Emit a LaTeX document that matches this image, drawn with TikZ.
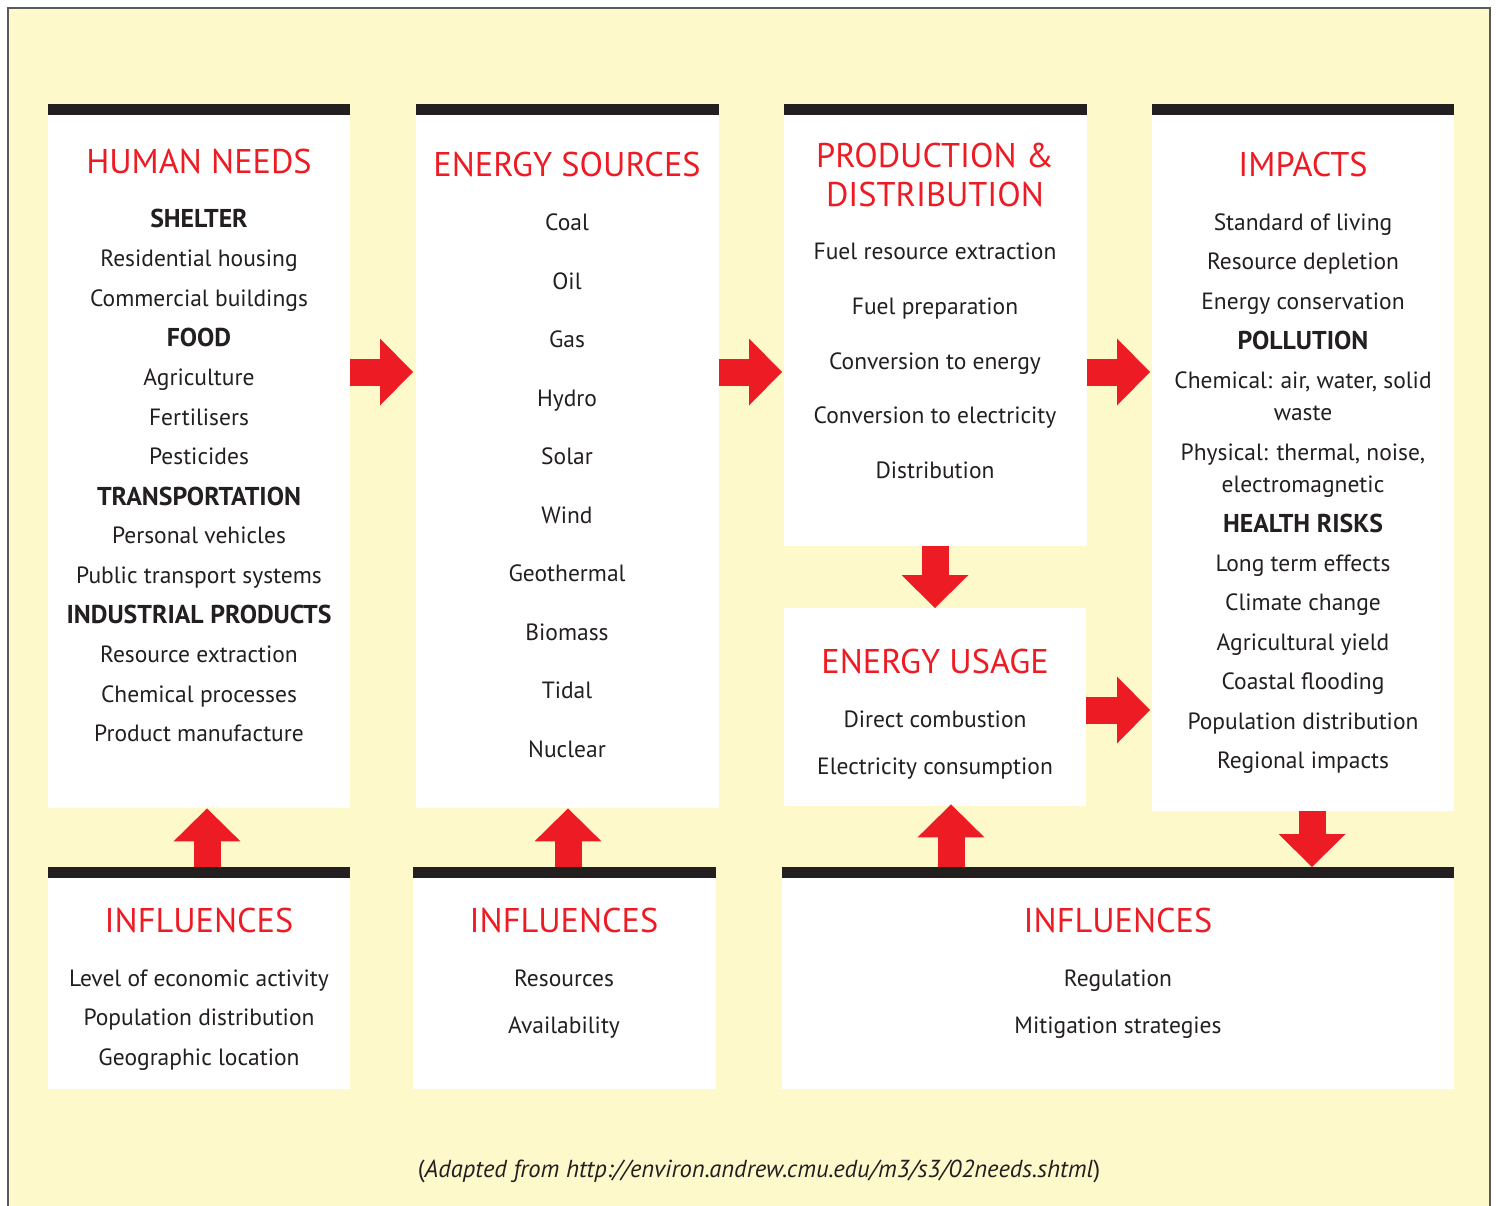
\documentclass[tikz,border=0pt]{standalone}
\usepackage{fontspec}
\setmainfont{PT Sans}
\usetikzlibrary{arrows.meta}
\definecolor{bgyellow}{HTML}{FEF9CB}
\definecolor{arrowred}{HTML}{ED1C24}
\definecolor{barblack}{HTML}{231F20}
\definecolor{inkdark}{HTML}{231F20}
\definecolor{framegray}{HTML}{5A5A5A}

\tikzset{
  panel/.style={fill=white, draw=none, inner sep=0pt, anchor=north west},
  ttl/.style={text=arrowred, font=\fontsize{34.3}{34.3}\selectfont, anchor=base, yshift=-12pt, inner sep=0pt},
  itm/.style={text=inkdark, font=\fontsize{23.5}{23.5}\selectfont, anchor=base, yshift=-8pt, inner sep=0pt},
  hdg/.style={text=inkdark, font=\fontsize{25.8}{25.8}\selectfont\bfseries, anchor=base, yshift=-9pt, inner sep=0pt},
  flow/.style={draw=arrowred, line width=27pt,
    -{Triangle[length=33pt, width=67pt, line width=0pt]}},
}

\begin{document}
\begin{tikzpicture}[x=1pt, y=-1pt]
\useasboundingbox (0,0) rectangle (1496,1205);

% page frame and background
\fill[bgyellow] (8,8) rectangle (1490,1230);
\draw[framegray, line width=1.4pt] (8,1230) -- (8,8) -- (1490,8) -- (1490,1230);

% panels
\node[panel, minimum width=302pt, minimum height=704pt] (hn) at (48,104) {};
\node[panel, minimum width=303pt, minimum height=704pt] (es) at (416,104) {};
\node[panel, minimum width=303pt, minimum height=442pt] (pd) at (784,104) {};
\node[panel, minimum width=302pt, minimum height=198pt] (eu) at (784,608) {};
\node[panel, minimum width=302pt, minimum height=707pt] (im) at (1152,104) {};
\node[panel, minimum width=302pt, minimum height=222pt] (in1) at (48,867) {};
\node[panel, minimum width=303pt, minimum height=222pt] (in2) at (413,867) {};
\node[panel, minimum width=672pt, minimum height=222pt] (in3) at (782,867) {};

% black bars on top of the panels
\foreach \b in {hn,es,pd,im,in1,in2,in3}
  \fill[barblack] (\b.north west) rectangle ([yshift=-11pt]\b.north east);

% flow arrows
\draw[flow, shorten >=3pt] (hn.east |- 0,372) -- (es.west |- 0,372);
\draw[flow, shorten >=2pt] (es.east |- 0,372) -- (pd.west |- 0,372);
\draw[flow, shorten >=2pt] (pd.east |- 0,372) -- (im.west |- 0,372);
\draw[flow, shorten >=2pt] (eu.east |- 0,710) -- (im.west |- 0,710);
\draw[flow] (935,0 |- pd.south) -- (935,0 |- eu.north);
\draw[flow] (207,0 |- in1.north) -- (207,0 |- hn.south);
\draw[flow] (568,0 |- in2.north) -- (568,0 |- es.south);
\draw[flow, shorten >=-2pt] (951,0 |- in3.north) -- (951,0 |- eu.south);
\draw[flow] (1312,0 |- im.south) -- (1312,0 |- in3.north);

% human needs
\foreach \s/\t/\y [count=\i] in {
  ttl/HUMAN NEEDS/161, hdg/SHELTER/218, itm/Residential housing/258,
  itm/Commercial buildings/298, hdg/FOOD/337, itm/Agriculture/377,
  itm/Fertilisers/417, itm/Pesticides/456, hdg/TRANSPORTATION/496,
  itm/Personal vehicles/535, itm/Public transport systems/575,
  hdg/INDUSTRIAL PRODUCTS/614, itm/Resource extraction/654,
  itm/Chemical processes/694, itm/Product manufacture/733}
  \node[\s] (hn-\i) at (199,\y) {\t};

% energy sources
\foreach \s/\t/\y [count=\i] in {
  ttl/ENERGY SOURCES/164, itm/Coal/222, itm/Oil/281, itm/Gas/339,
  itm/Hydro/398, itm/Solar/456, itm/Wind/515, itm/Geothermal/573,
  itm/Biomass/632, itm/Tidal/690, itm/Nuclear/749}
  \node[\s] (es-\i) at (567,\y) {\t};

% production and distribution
\foreach \s/\t/\y [count=\i] in {
  ttl/PRODUCTION \&/155, ttl/DISTRIBUTION/194,
  itm/Fuel resource extraction/251, itm/Fuel preparation/306,
  itm/Conversion to energy/361, itm/Conversion to electricity/415,
  itm/Distribution/470}
  \node[\s] (pd-\i) at (935,\y) {\t};

% energy usage
\foreach \s/\t/\y [count=\i] in {
  ttl/ENERGY USAGE/661, itm/Direct combustion/719,
  itm/Electricity consumption/766}
  \node[\s] (eu-\i) at (935,\y) {\t};

% impacts
\foreach \s/\t/\y [count=\i] in {
  ttl/IMPACTS/164, itm/Standard of living/222, itm/Resource depletion/261,
  itm/Energy conservation/301, hdg/POLLUTION/340,
  itm/{Chemical: air, water, solid}/380, itm/waste/412,
  itm/{Physical: thermal, noise,}/452, itm/electromagnetic/484,
  hdg/HEALTH RISKS/523, itm/Long term effects/563, itm/Climate change/602,
  itm/Agricultural yield/642, itm/Coastal flooding/681,
  itm/Population distribution/721, itm/Regional impacts/760}
  \node[\s] (im-\i) at (1303,\y) {\t};

% influences
\foreach \s/\t/\y [count=\i] in {
  ttl/INFLUENCES/920, itm/Level of economic activity/978,
  itm/Population distribution/1017, itm/Geographic location/1057}
  \node[\s] (in1-\i) at (199,\y) {\t};
\foreach \s/\t/\y [count=\i] in {
  ttl/INFLUENCES/920, itm/Resources/978, itm/Availability/1025}
  \node[\s] (in2-\i) at (564,\y) {\t};
\foreach \s/\t/\y [count=\i] in {
  ttl/INFLUENCES/920, itm/Regulation/978, itm/Mitigation strategies/1025}
  \node[\s] (in3-\i) at (1118,\y) {\t};

% source line
\node[itm, font=\fontsize{24.6}{24.6}\selectfont] (src) at (759,1169)
  {(\textit{Adapted from http://environ.andrew.cmu.edu/m3/s3/02needs.shtml})};
\end{tikzpicture}
\end{document}
